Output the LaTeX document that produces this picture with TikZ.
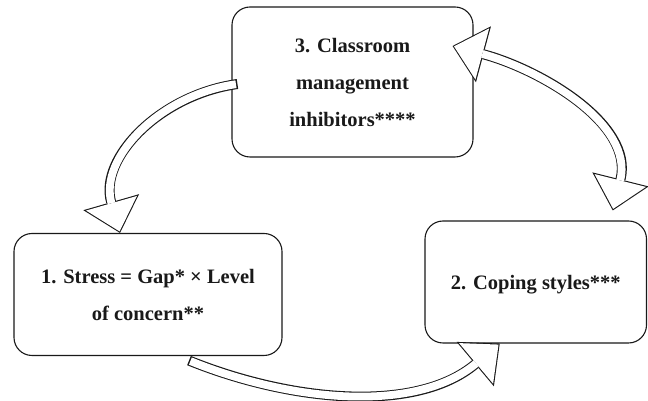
\documentclass[tikz,border=0pt]{standalone}
\usepackage{fontspec}
\setmainfont{Liberation Serif}
\usetikzlibrary{arrows.meta}

\begin{document}
\begin{tikzpicture}[x=1pt,y=1pt,
every node/.style={draw=black!90, line width=1.1pt, rounded corners=18pt, fill=white,
  align=center, inner sep=0pt, text=black!90, font=\fontsize{20.5}{37}\selectfont\bfseries},
fatline/.style={line width=10pt, draw=black!90,
  >={Triangle[length=32pt,width=58pt,line width=0pt]}},
fatfill/.style={line width=7.8pt, draw=white, shorten <=1.5pt, shorten >=1.6pt,
  >={Triangle[length=29.3pt,width=53pt,line width=0pt]}}]
\useasboundingbox (0,0) rectangle (648,401);

%the three stages
\node[minimum width=241pt, minimum height=150pt] (3) at (352.5,319) {3. Classroom\\management\\inhibitors****};
\node[minimum width=268pt, minimum height=122pt] (1) at (148,106.5) {1. Stress = Gap* × Level\\of concern**};
\node[minimum width=221.5pt, minimum height=122pt, text depth=0pt] (2) at (535.75,119) {2. Coping styles***};

%block arrows: dark body first, then the white inside
\foreach \layer in {fatline,fatfill}{
	\draw[\layer,->] ([xshift=6pt,yshift=-2pt]3.west) to[out=188,in=106,looseness=1.05] ([xshift=-28pt]1.north);
	\draw[\layer,->] ([xshift=41pt,yshift=-4.5pt]1.south) to[out=-22,in=220,looseness=0.9] ([xshift=-36pt]2.south);
	\draw[\layer,<->] ([xshift=-21pt,yshift=36pt]3.east) to[out=-15,in=76] ([xshift=77pt,yshift=10pt]2.north);
}
\end{tikzpicture}
\end{document}
